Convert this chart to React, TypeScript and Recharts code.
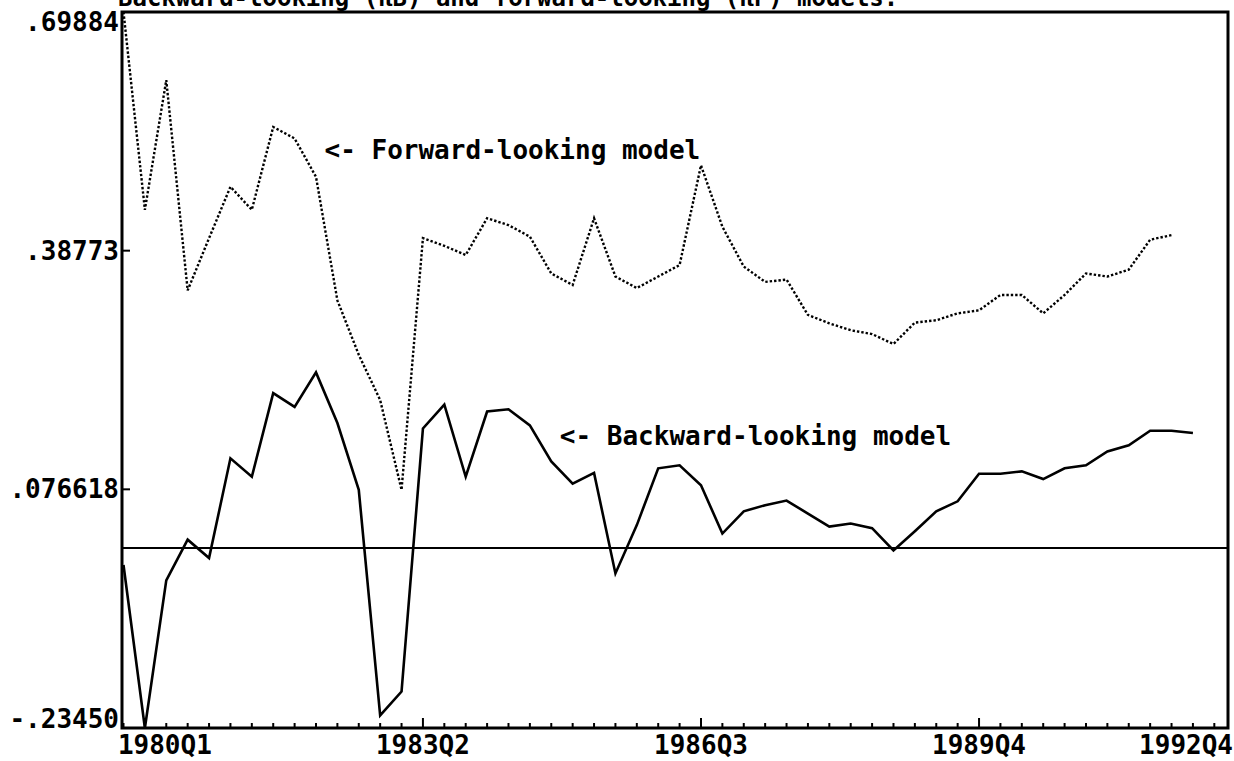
import React from 'react';
import { LineChart, Line, XAxis, YAxis, ReferenceLine, ReferenceArea, ReferenceDot } from 'recharts';

// index 0 = 1979Q4; the frame ends a little before 1992Q4, which labels its right edge
const xStart = -0.07;
const xEnd = 51.64;
const majorTicks = [1, 14, 27, 40, xEnd];
const xTickLabels = ['1980Q1', '1983Q2', '1986Q3', '1989Q4', '1992Q4'];

const yTicks = [-0.2345, 0.076618, 0.38773, 0.69884];
const yTickLabels = ['-.23450', '.076618', '.38773', '.69884'];

// backward-looking model, 1979Q4 .. 1992Q2
const backward = [
  -0.022, -0.2345, -0.042, 0.011, -0.013, 0.117, 0.093, 0.202, 0.184, 0.229,
  0.163, 0.076, -0.218, -0.187, 0.156, 0.187, 0.093, 0.178, 0.181, 0.16,
  0.113, 0.084, 0.098, -0.033, 0.03, 0.104, 0.108, 0.082, 0.019, 0.048,
  0.056, 0.062, 0.045, 0.028, 0.032, 0.026, -0.003, 0.022, 0.048, 0.061,
  0.097, 0.097, 0.1, 0.09, 0.104, 0.108, 0.126, 0.134, 0.153, 0.153,
  0.15,
];

// forward-looking model, 1979Q4 .. 1992Q1
const forward = [
  0.69884, 0.441, 0.61, 0.336, 0.404, 0.471, 0.441, 0.549, 0.534, 0.484,
  0.323, 0.252, 0.193, 0.076, 0.404, 0.394, 0.382, 0.43, 0.421, 0.406,
  0.358, 0.343, 0.43, 0.354, 0.339, 0.354, 0.369, 0.499, 0.419, 0.367,
  0.347, 0.35, 0.304, 0.293, 0.284, 0.279, 0.266, 0.294, 0.297, 0.306,
  0.31, 0.33, 0.33, 0.306, 0.33, 0.358, 0.354, 0.363, 0.402, 0.408,
];

const quarterTicks = [...Array.from({ length: 52 }, (_, i) => i), xEnd];

const rows = backward.map((b, i) => ({
  i,
  backward: b,
  forward: i < forward.length ? forward[i] : null,
}));

const FONT = '"DejaVu Sans Mono", monospace';
const FS = 26;

const QuarterTick = (props: any) => {
  const { x, y, payload } = props;
  const k = majorTicks.indexOf(payload.value);
  const first = k === 0;
  const last = k === majorTicks.length - 1;
  // edge labels are kept inside the frame's width
  const anchor = first ? 'start' : last ? 'end' : 'middle';
  const tx = first ? x - 27 : last ? x + 5 : x;
  return (
    <g>
      {!last && <line x1={x} x2={x} y1={y} y2={y - (k >= 0 ? 10 : 5)} stroke="#000" strokeWidth={2} />}
      {k >= 0 && (
        <text x={tx} y={y + 26} textAnchor={anchor} fontFamily={FONT} fontWeight="bold" fontSize={FS} fill="#000">
          {xTickLabels[k]}
        </text>
      )}
    </g>
  );
};

const ValueTick = (props: any) => {
  const { x, y, payload } = props;
  const k = yTicks.indexOf(payload.value);
  // the end labels sit inside the frame's height
  const shift = k === 0 ? -9 : k === yTicks.length - 1 ? 10 : 0;
  return (
    <g>
      <line x1={x} x2={x + 8} y1={y} y2={y} stroke="#000" strokeWidth={2} />
      <text
        x={x - 3}
        y={y + shift}
        dy="0.35em"
        textAnchor="end"
        fontFamily={FONT}
        fontWeight="bold"
        fontSize={FS}
        fill="#000"
      >
        {yTickLabels[k]}
      </text>
    </g>
  );
};

const noteStyle = { fill: '#000', fontSize: FS, fontFamily: FONT, fontWeight: 'bold' };

export default function App() {
  return (
    <div style={{ position: 'relative', width: 1234, height: 761, overflow: 'hidden', background: '#fff' }}>
      <style>{'body{margin:0}'}</style>
      <div
        style={{
          position: 'absolute',
          left: 118,
          top: -14,
          fontFamily: FONT,
          fontWeight: 'bold',
          fontSize: 24,
          lineHeight: 1,
          whiteSpace: 'pre',
        }}
      >
        Backward-looking (πB) and forward-looking (πF) models.
      </div>
      <LineChart width={1234} height={761} data={rows} margin={{ top: 12, right: 6, bottom: 0, left: 0 }}>
        <XAxis
          dataKey="i"
          type="number"
          domain={[xStart, xEnd]}
          allowDataOverflow
          ticks={quarterTicks}
          interval={0}
          height={33}
          axisLine={false}
          tickLine={false}
          tickSize={0}
          tickMargin={0}
          tick={<QuarterTick />}
        />
        <YAxis
          type="number"
          domain={[-0.2345, 0.69884]}
          ticks={yTicks}
          interval={0}
          width={122}
          axisLine={false}
          tickLine={false}
          tickSize={0}
          tickMargin={0}
          tick={<ValueTick />}
        />
        <ReferenceArea x1={xStart} x2={xEnd} y1={-0.2345} y2={0.69884} fill="none" stroke="#000" strokeWidth={3} />
        <ReferenceLine y={0} stroke="#000" strokeWidth={2} />
        <Line
          dataKey="forward"
          stroke="#000"
          strokeWidth={2.4}
          strokeDasharray="2.4 2"
          dot={false}
          type="linear"
          isAnimationActive={false}
        />
        <Line dataKey="backward" stroke="#000" strokeWidth={2.6} dot={false} type="linear" isAnimationActive={false} />
        <ReferenceDot
          x={9.4}
          y={0.519}
          r={0}
          label={{ value: '<- Forward-looking model', position: 'right', offset: 0, ...noteStyle }}
        />
        <ReferenceDot
          x={20.4}
          y={0.146}
          r={0}
          label={{ value: '<- Backward-looking model', position: 'right', offset: 0, ...noteStyle }}
        />
      </LineChart>
    </div>
  );
}
